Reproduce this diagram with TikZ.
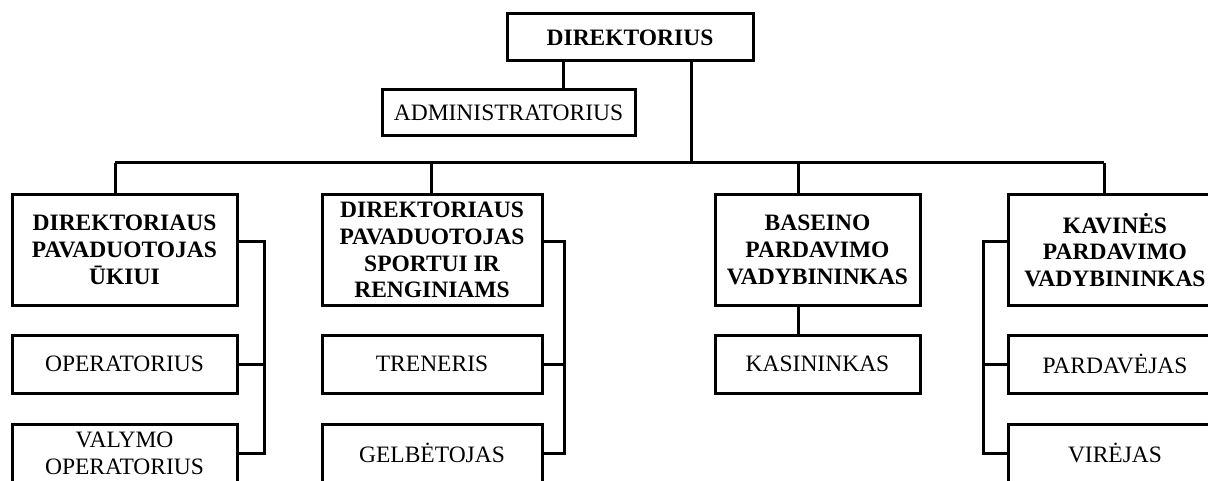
\documentclass[tikz,border=0pt]{standalone}
\usepackage{fontspec}
\setmainfont{Liberation Serif}
\begin{document}
\begin{tikzpicture}[x=1pt,y=-1pt,
  box/.style={draw, line width=3pt, inner sep=0pt, align=center,
    font=\fontsize{23.5}{26.8}\selectfont},
  headbox/.style={box, font=\fontsize{23.5}{26.8}\selectfont\bfseries},
  conn/.style={line width=3pt}]
\useasboundingbox (0,0) rectangle (1208,481);
\clip (0,0) rectangle (1208,481);
% top
\node[headbox, minimum width=246pt, minimum height=47pt] (dir) at (630,37.5) {DIREKTORIUS};
\node[box, minimum width=253pt, minimum height=46pt] (adm) at (508.5,113) {ADMINISTRATORIUS};
% column 1
\node[headbox, minimum width=225pt, minimum height=110pt] (b1) at (124.5,250) {DIREKTORIAUS\\PAVADUOTOJAS\\ŪKIUI};
\node[box, minimum width=225pt, minimum height=58pt] (op) at (124.5,364) {OPERATORIUS};
\node[box, minimum width=225pt, minimum height=58pt] (val) at (124.5,453) {VALYMO\\OPERATORIUS};
% column 2
\node[headbox, minimum width=220pt, minimum height=110pt] (b2) at (432,250) {DIREKTORIAUS\\PAVADUOTOJAS\\SPORTUI IR\\RENGINIAMS};
\node[box, minimum width=220pt, minimum height=58pt] (tr) at (432,364) {TRENERIS};
\node[box, minimum width=220pt, minimum height=58pt] (gel) at (432,453) {GELBĖTOJAS};
% column 3
\node[headbox, minimum width=205pt, minimum height=110pt] (b3) at (817.5,250) {BASEINO\\PARDAVIMO\\VADYBININKAS};
\node[box, minimum width=205pt, minimum height=58pt] (kas) at (817.5,364) {KASININKAS};
% column 4
\node[headbox, minimum width=214pt, minimum height=110pt] (b4) at (1115,250) {KAVINĖS\\PARDAVIMO\\VADYBININKAS};
\node[box, minimum width=214pt, minimum height=58pt] (par) at (1115,364) {PARDAVĖJAS};
\node[box, minimum width=214pt, minimum height=58pt] (vir) at (1115,453) {VIRĖJAS};
% helper coordinates
\coordinate (ja) at (563,0);
\coordinate (jd) at (691,0);
\coordinate (bus) at (0,163);
\coordinate (d1) at (115,0);
\coordinate (d2) at (431,0);
\coordinate (d3) at (798,0);
\coordinate (d4) at (1104,0);
\coordinate (s) at (0,242);
\coordinate (v1) at (264,0);
\coordinate (v2) at (564,0);
\coordinate (v4) at (983,0);
% connectors
\draw[conn] (dir.south -| ja) -- (adm.north -| ja);
\draw[conn] (dir.south -| jd) -- (bus -| jd);
\draw[conn] (bus -| d1) -- (bus -| d4);
\draw[conn] (bus -| d1) -- (b1.north -| d1);
\draw[conn] (bus -| d2) -- (b2.north -| d2);
\draw[conn] (bus -| d3) -- (b3.north -| d3);
\draw[conn] (bus -| d4) -- (b4.north -| d4);
\draw[conn] (b1.east |- s) -- (v1 |- s) -- (v1 |- val.east) -- (val.east);
\draw[conn] (op.east) -- (v1 |- op.east);
\draw[conn] (b2.east |- s) -- (v2 |- s) -- (v2 |- gel.east) -- (gel.east);
\draw[conn] (tr.east) -- (v2 |- tr.east);
\draw[conn] (b3.south -| d3) -- (kas.north -| d3);
\draw[conn] (b4.west |- s) -- (v4 |- s) -- (v4 |- vir.west) -- (vir.west);
\draw[conn] (par.west) -- (v4 |- par.west);
\end{tikzpicture}
\end{document}
